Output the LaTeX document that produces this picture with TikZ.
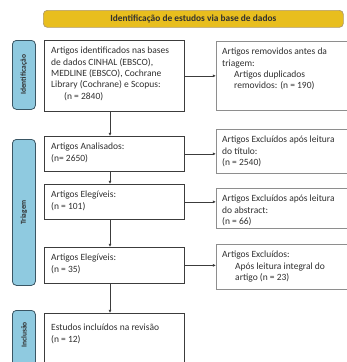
\documentclass[tikz,border=0pt]{standalone}
\usepackage{fontspec}
\setmainfont{Carlito}
\usetikzlibrary{arrows.meta}

\definecolor{barYellow}{HTML}{E8BE1E}
\definecolor{barEdge}{HTML}{B09A6A}
\definecolor{phaseBlue}{HTML}{8FCAE0}
\definecolor{phaseEdge}{HTML}{3A5664}
\definecolor{lineDark}{HTML}{3C3C3C}
\definecolor{boxGray}{HTML}{8E8E8E}
\definecolor{txtDark}{HTML}{303030}

\tikzset{
  lbox/.style={draw=lineDark, line width=0.7pt, fill=white, anchor=north west,
    minimum width=140pt, inner sep=0pt},
  rbox/.style={draw=boxGray, line width=1.3pt, fill=white, anchor=north west,
    minimum width=140pt, inner sep=0pt},
  phase/.style={draw=phaseEdge, line width=0.8pt, fill=phaseBlue, rounded corners=4pt,
    anchor=north west, minimum width=23pt, inner sep=0pt},
  phasetxt/.style={rotate=90, font=\fontsize{7.5}{8}\selectfont\bfseries, text=txtDark, inner sep=0pt},
  tx/.style={anchor=north west, align=left, inner sep=0pt, text=txtDark,
    font=\fontsize{9.5}{11.4}\selectfont},
  arr/.style={draw=lineDark, line width=0.7pt, -{Latex[length=3.2pt,width=3pt]}},
}

\begin{document}
\begin{tikzpicture}[x=1pt, y=-1pt]
  \useasboundingbox (0,0) rectangle (347,362);
  \clip (0,0) rectangle (347,362);

  % header bar
  \node[draw=barEdge, line width=0.7pt, fill=barYellow, rounded corners=4pt,
        anchor=north west, minimum width=300pt, minimum height=17pt, inner sep=0pt]
        (head) at (43,10) {};
  \node[font=\fontsize{9.4}{10}\selectfont\bfseries, text=txtDark, inner sep=0pt]
        (headtxt) at (head.center) {Identificação de estudos via base de dados};

  % phase labels
  \node[phase, minimum height=69pt] (pid) at (12,40) {};
  \node[phasetxt] (pidtxt) at (pid.center) {Identificação};
  \node[phase, minimum height=146pt] (ptr) at (12,139) {};
  \node[phasetxt] (ptrtxt) at (ptr.center) {Triagem};
  \node[phase, minimum height=70pt] (pin) at (12,310) {};
  \node[phasetxt] (pintxt) at ([yshift=-25pt]pin.north) {Inclusão};

  % left column
  \node[lbox, minimum height=71pt] (b1) at (44,40) {};
  \node[tx] (b1t) at (51,47) {Artigos identificados nas bases\\de dados CINHAL (EBSCO),\\MEDLINE (EBSCO), Cochrane\\Library (Cochrane) e Scopus:\\\hspace{13pt}(n = 2840)};
  \node[lbox, minimum height=35pt] (b2) at (44,136) {};
  \node[tx] (b2t) at (51,143) {Artigos Analisados:\\(n= 2650)};
  \node[lbox, minimum height=35pt] (b3) at (44,184) {};
  \node[tx] (b3t) at (51,191) {Artigos Elegíveis:\\(n = 101)};
  \node[lbox, minimum height=36pt] (b4) at (44,247) {};
  \node[tx] (b4t) at (51,254) {Artigos Elegíveis:\\(n = 35)};
  \node[lbox, minimum height=60pt] (b5) at (44,313) {};
  \node[tx] (b5t) at (51,324) {Estudos incluídos na revisão\\(n = 12)};

  % right column
  \node[rbox, minimum height=69pt] (r1) at (216,41) {};
  \node[tx] (r1t) at (222,48) {Artigos removidos antes da\\triagem:\\\hspace{12pt}Artigos duplicados\\\hspace{12pt}removidos: (n = 190)};
  \node[rbox, minimum height=44pt] (r2) at (216,129) {};
  \node[tx] (r2t) at (222,136) {Artigos Excluídos após leitura\\do título:\\(n = 2540)};
  \node[rbox, minimum height=40pt] (r3) at (216,188) {};
  \node[tx] (r3t) at (222,195) {Artigos Excluídos após leitura\\do abstract:\\(n = 66)};
  \node[rbox, minimum height=45pt] (r4) at (216,244) {};
  \node[tx] (r4t) at (222,251) {Artigos Excluídos:\\\hspace{13pt}Após leitura integral do\\\hspace{13pt}artigo (n = 23)};

  % connectors
  \coordinate (axis) at (110,0);
  \draw[arr] (b1.south -| axis) -- (b2.north -| axis);
  \draw[arr] (b2.south -| axis) -- (b3.north -| axis);
  \draw[arr] (b3.south -| axis) -- (b4.north -| axis);
  \draw[arr] (b4.south -| axis) -- (b5.north -| axis);
  \draw[arr] (b1.east) -- (b1.east -| r1.west);
  \draw[arr] (b2.east) -- (b2.east -| r2.west);
  \draw[arr] (b3.east) -- (b3.east -| r3.west);
  \draw[arr] (b4.east) -- (b4.east -| r4.west);
\end{tikzpicture}
\end{document}
